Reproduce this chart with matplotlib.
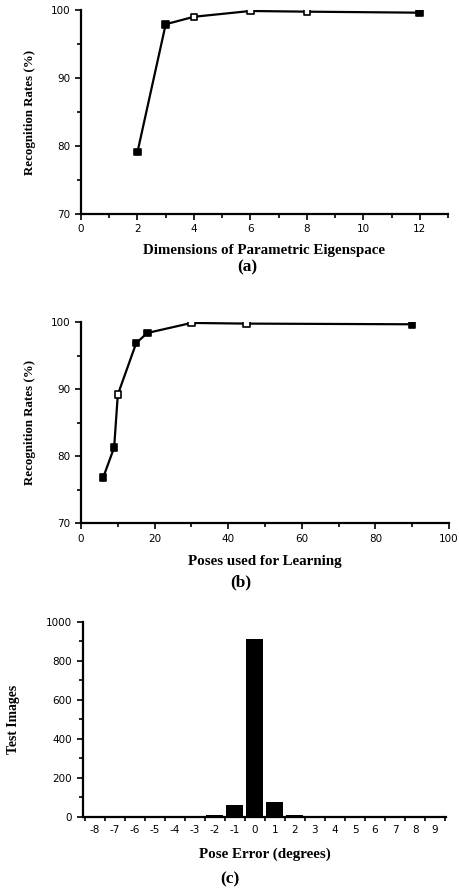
import numpy as np
import matplotlib.pyplot as plt
from matplotlib.ticker import MultipleLocator

# (a) recognition vs eigenspace dimensions
dims = [2, 3, 4, 6, 8, 12]
rate_dims = [79.1, 97.9, 99.0, 99.85, 99.75, 99.6]

# (b) recognition vs number of learning poses
poses = [6, 9, 10, 15, 18, 30, 45, 90]
rate_poses = [76.8, 81.3, 89.2, 96.9, 98.4, 99.9, 99.8, 99.7]

# (c) pose error histogram
err = [-8, -7, -6, -5, -4, -3, -2, -1, 0, 1, 2, 3, 4, 5, 6, 7, 8, 9]
count = [4, 1, 1, 1, 2, 1, 8, 60, 912, 77, 7, 2, 2, 1, 1, 1, 1, 1]

serif = 'Liberation Serif'
sans = 'DejaVu Sans'

fig = plt.figure(figsize=(4.59, 8.9), dpi=100)

def style(ax):
    for s in ['top', 'right']:
        ax.spines[s].set_visible(False)
    for s in ['left', 'bottom']:
        ax.spines[s].set_linewidth(1.6)
    ax.tick_params(which='both', direction='out', width=1.2, labelsize=7.5)
    ax.tick_params(which='major', length=4)
    ax.tick_params(which='minor', length=3)
    for lab in ax.get_xticklabels() + ax.get_yticklabels():
        lab.set_family(sans)

# panel a
ax1 = fig.add_axes([0.1765, 0.7596, 0.7995, 0.2292])
ax1.plot(dims, rate_dims, color='black', lw=1.6, zorder=2)
fill_a = ['black', 'black', 'white', 'white', 'white', 'black']
ax1.scatter(dims, rate_dims, marker='s', s=22, facecolors=fill_a,
            edgecolors='black', linewidths=1.2, zorder=3)
ax1.set_xlim(0, 13)
ax1.set_ylim(70, 100)
ax1.xaxis.set_major_locator(MultipleLocator(2))
ax1.xaxis.set_minor_locator(MultipleLocator(1))
ax1.yaxis.set_major_locator(MultipleLocator(10))
ax1.yaxis.set_minor_locator(MultipleLocator(5))
style(ax1)
ax1.set_ylabel('Recognition Rates (%)', family=serif, fontsize=9.3, fontweight='bold', labelpad=11)
ax1.set_xlabel('Dimensions of Parametric Eigenspace', family=serif, fontsize=10.8,
               fontweight='bold', labelpad=7)
fig.text(0.538, 0.699, '(a)', family=serif, fontsize=12.5, fontweight='bold', ha='center', va='center')

# panel b
ax2 = fig.add_axes([0.1765, 0.412, 0.8017, 0.2259])
ax2.plot(poses, rate_poses, color='black', lw=1.6, zorder=2)
fill_b = ['black', 'black', 'white', 'black', 'black', 'white', 'white', 'black']
ax2.scatter(poses, rate_poses, marker='s', s=22, facecolors=fill_b,
            edgecolors='black', linewidths=1.2, zorder=3)
ax2.set_xlim(0, 100)
ax2.set_ylim(70, 100)
ax2.xaxis.set_major_locator(MultipleLocator(20))
ax2.xaxis.set_minor_locator(MultipleLocator(10))
ax2.yaxis.set_major_locator(MultipleLocator(10))
ax2.yaxis.set_minor_locator(MultipleLocator(5))
style(ax2)
ax2.set_ylabel('Recognition Rates (%)', family=serif, fontsize=9.3, fontweight='bold', labelpad=11)
ax2.set_xlabel('Poses used for Learning', family=serif, fontsize=10.8,
               fontweight='bold', labelpad=8)
fig.text(0.524, 0.346, '(b)', family=serif, fontsize=12.5, fontweight='bold', ha='center', va='center')

# panel c
ax3 = fig.add_axes([0.180, 0.0824, 0.792, 0.2187])
ax3.bar(err, count, width=0.85, color='black')
ax3.set_xlim(-8.6, 9.55)
ax3.set_ylim(0, 1000)
ax3.set_xticks(err)
ax3.set_xticklabels([str(e) for e in err])
ax3.xaxis.set_minor_locator(MultipleLocator(1, offset=0.5))
ax3.yaxis.set_major_locator(MultipleLocator(200))
ax3.yaxis.set_minor_locator(MultipleLocator(100))
style(ax3)
ax3.tick_params(axis='x', which='major', length=0, pad=6)
ax3.set_ylabel('Test Images', family=serif, fontsize=9.8, fontweight='bold', labelpad=19)
ax3.set_xlabel('Pose Error (degrees)', family=serif, fontsize=10.8,
               fontweight='bold', labelpad=9)
fig.text(0.50, 0.0124, '(c)', family=serif, fontsize=12.5, fontweight='bold', ha='center', va='center')

fig.savefig('out.png', dpi=100)
